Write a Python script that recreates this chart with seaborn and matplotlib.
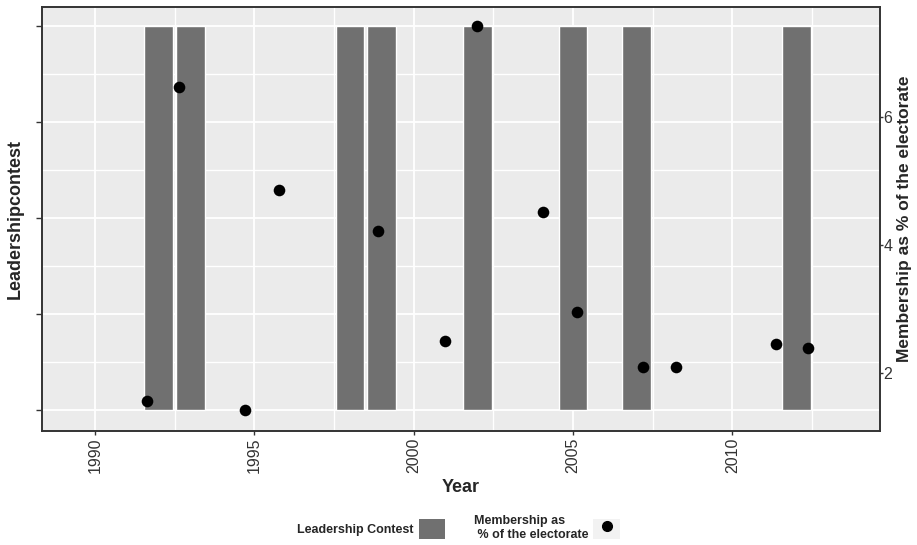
import matplotlib
matplotlib.use("Agg")
import matplotlib.pyplot as plt
import seaborn as sns
import pandas as pd
from matplotlib.patches import Patch
from matplotlib.lines import Line2D

# --- data ---
contest_years = [1992, 1993, 1998, 1999, 2002, 2005, 2007, 2012]
contest_flag = [1, 1, 1, 1, 1, 1, 1, 1]

member_years = [1991.63, 1992.64, 1994.72, 1995.79, 1998.88, 2000.97, 2001.99,
                2004.07, 2005.12, 2007.19, 2008.23, 2011.37, 2012.38]
member_pct = [1.56, 6.48, 1.42, 4.86, 4.22, 2.50, 7.43,
              4.52, 2.95, 2.09, 2.10, 2.46, 2.39]

year_ticks = [1990, 1995, 2000, 2005, 2010]
pct_ticks = [2, 4, 6]

BAR_COL = "#707070"
BG = "#EBEBEB"
TXT = "#333333"

sns.set_theme(style="darkgrid", rc={
    "axes.facecolor": BG,
    "grid.color": "white",
    "axes.edgecolor": "#333333",
    "axes.linewidth": 1.2,
})
plt.rcParams["font.family"] = ["Liberation Sans", "DejaVu Sans"]

bars = pd.DataFrame({"Year": contest_years, "contest": contest_flag})
pts = pd.DataFrame({"Year": member_years, "pct": member_pct})

fig = plt.figure(figsize=(9.17, 5.45), dpi=100)
ax = fig.add_axes([42.3 / 917, 1 - 430.7 / 545, (880 - 42.3) / 917, (430.7 - 7.3) / 545])

sns.barplot(data=bars, x="Year", y="contest", native_scale=True, width=0.9,
            color=BAR_COL, saturation=1, ax=ax, zorder=2)

ax.set_xlim(1988.35, 2014.63)
ax.set_ylim(-0.054, 1.049)
ax.set_xticks(year_ticks)
ax.set_xticks([1992.5, 1997.5, 2002.5, 2007.5, 2012.5], minor=True)
ax.set_yticks([0, 0.25, 0.5, 0.75, 1])
ax.set_yticks([0.125, 0.375, 0.625, 0.875], minor=True)
ax.set_yticklabels([])
ax.grid(True, which="major", color="white", linewidth=1.3)
ax.grid(True, which="minor", color="white", linewidth=1.0)
ax.set_axisbelow(True)
ax.tick_params(axis="x", which="major", rotation=90, labelsize=11.5, labelcolor=TXT,
               length=3, width=1, color="#333333", bottom=True, pad=2)
ax.tick_params(axis="y", which="major", length=4, width=1, color="#333333", left=True)
ax.tick_params(which="minor", length=0)
ax.set_xlabel("Year", fontsize=13, fontweight="bold", labelpad=4)
ax.set_ylabel("Leadershipcontest", fontsize=13, fontweight="bold", labelpad=6)
for s in ax.spines.values():
    s.set_visible(True)
    s.set_color("#333333")

# membership series rescaled onto the same panel (min -> 0, max -> 1)
ax2 = ax.twinx()
m_min, m_max = min(member_pct), max(member_pct)
lo, hi = ax.get_ylim()
ax2.set_ylim(m_min + lo * (m_max - m_min), m_min + hi * (m_max - m_min))
sns.scatterplot(data=pts, x="Year", y="pct", color="black", s=70,
                edgecolor="black", linewidth=0, ax=ax2, zorder=3)
ax2.grid(False)
ax2.set_yticks(pct_ticks)
ax2.tick_params(axis="y", labelsize=11.5, labelcolor=TXT, length=2, width=1,
                color="#333333", right=True, pad=0.5)
ax2.set_ylabel("Membership as % of the electorate", fontsize=12.5, fontweight="bold",
               labelpad=3)
ax2.set_xlabel("")

handles = [Patch(facecolor=BAR_COL, edgecolor="none"),
           (Patch(facecolor="#F2F2F2", edgecolor="none"),
            Line2D([], [], marker="o", color="black", linestyle="none", markersize=7))]
labels = ["Leadership Contest", "Membership as\n % of the electorate"]
fig.legend(handles, labels, loc="center", bbox_to_anchor=(0.5, 1 - 528 / 545),
           ncol=2, frameon=False, markerfirst=False, handlelength=2.1,
           handleheight=2.1, handletextpad=0.4, columnspacing=2.3,
           prop={"size": 9, "weight": "bold"})

fig.savefig("out.png", dpi=100)
